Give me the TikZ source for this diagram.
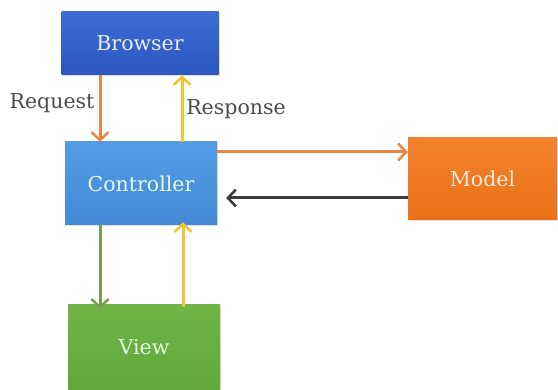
\documentclass[tikz,border=0pt]{standalone}
\usepackage{fontspec}
\setmainfont{DejaVu Serif}
\usetikzlibrary{arrows.meta,shadows}
\definecolor{browsertop}{HTML}{3B6CD4}
\definecolor{browserbot}{HTML}{2B58BE}
\definecolor{ctrltop}{HTML}{549CE2}
\definecolor{ctrlbot}{HTML}{428AD6}
\definecolor{modeltop}{HTML}{F3822C}
\definecolor{modelbot}{HTML}{EC7018}
\definecolor{viewtop}{HTML}{70B446}
\definecolor{viewbot}{HTML}{62A83A}
\definecolor{reqc}{HTML}{EE8440}
\definecolor{respc}{HTML}{F4C430}
\definecolor{backc}{HTML}{3A3A3A}
\definecolor{downc}{HTML}{74A050}
\definecolor{labelc}{HTML}{4A4A4A}
\tikzset{
  box/.style={draw=none, minimum width=#1, inner sep=0pt,
    drop shadow={shadow xshift=1pt, shadow yshift=-1.5pt, opacity=0.25},
    font=\fontsize{20.5}{20.5}\selectfont},
  flow/.style={line width=3pt, -{Straight Barb[length=8pt,width=17pt,line width=2.5pt]}},
  lbl/.style={text=labelc, font=\fontsize{20.5}{20.5}\selectfont, inner sep=0pt}
}
\begin{document}
\begin{tikzpicture}[x=1pt,y=-1pt]
\useasboundingbox (0,0) rectangle (558,390);
\node[box=157pt, minimum height=63pt, top color=browsertop, bottom color=browserbot, text=blue!8] (browser) at (140,43.5) {Browser};
\node[box=152pt, minimum height=83pt, top color=ctrltop, bottom color=ctrlbot, text=cyan!10] (ctrl) at (141,183.5) {Controller};
\node[box=149pt, minimum height=82pt, top color=modeltop, bottom color=modelbot, text=orange!15] (model) at (482.5,179) {Model};
\node[box=152pt, minimum height=85pt, top color=viewtop, bottom color=viewbot, text=green!10] (view) at (144,347.5) {View};

\draw[flow, reqc] (browser.south -| 100,0) -- (ctrl.north -| 100,0);
\draw[flow, respc] (ctrl.north -| 182,0) -- (browser.south -| 182,0);
\draw[flow, reqc] (ctrl.east |- 0,152) -- (model.west |- 0,152);
\draw[flow, backc] (model.west |- 0,198) -- ([xshift=9pt]ctrl.east |- 0,198);
\draw[flow, downc] (ctrl.south -| 100,0) -- ([yshift=-4pt]view.north -| 100,0);
\draw[flow, respc] ([yshift=-2pt]view.north -| 183,0) -- ([yshift=3pt]ctrl.south -| 183,0);

\node[lbl] (req) at (52,103) {Request};
\node[lbl] (resp) at (236,109) {Response};
\end{tikzpicture}
\end{document}
